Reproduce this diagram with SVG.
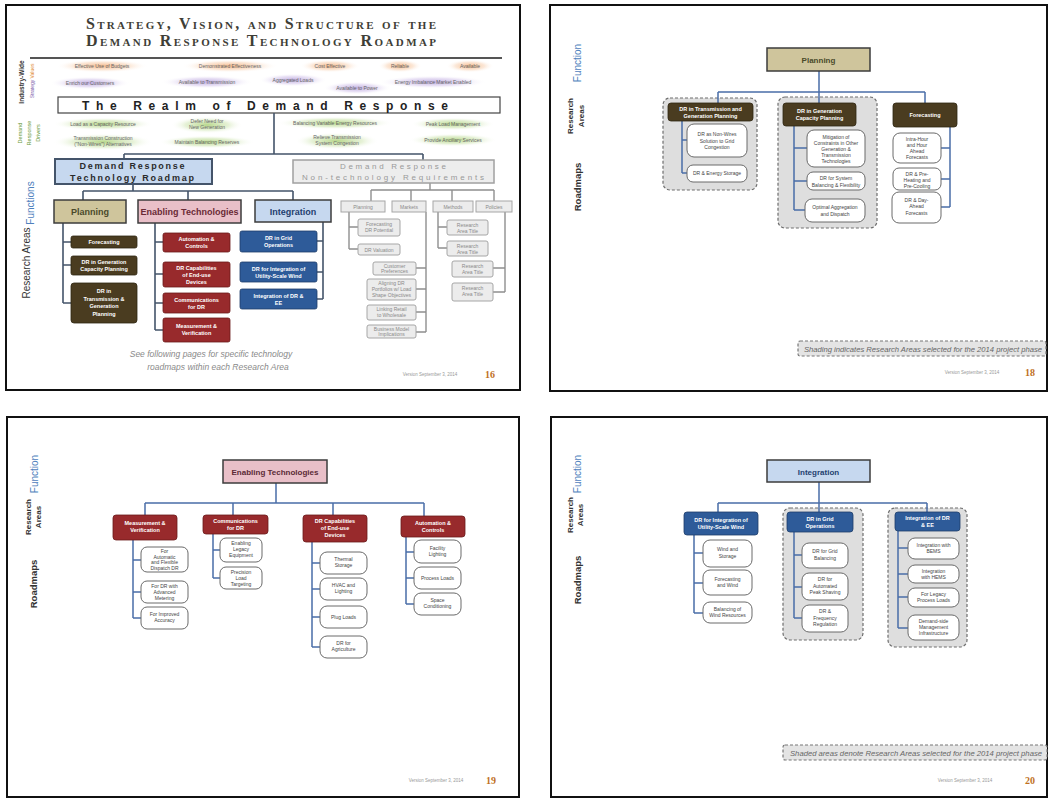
<svg xmlns="http://www.w3.org/2000/svg" width="1050" height="800" viewBox="0 0 1050 800">
<defs>
<radialGradient id="gO"><stop offset="0" stop-color="#f4b07c" stop-opacity="0.9"/><stop offset="0.6" stop-color="#f9d8bd" stop-opacity="0.6"/><stop offset="1" stop-color="#fff" stop-opacity="0"/></radialGradient>
<radialGradient id="gP"><stop offset="0" stop-color="#b7a3dc" stop-opacity="0.9"/><stop offset="0.6" stop-color="#dcd0ef" stop-opacity="0.6"/><stop offset="1" stop-color="#fff" stop-opacity="0"/></radialGradient>
<radialGradient id="gG"><stop offset="0" stop-color="#b3d584" stop-opacity="0.95"/><stop offset="0.6" stop-color="#d8eac0" stop-opacity="0.65"/><stop offset="1" stop-color="#fff" stop-opacity="0"/></radialGradient>
</defs>
<style>
.frame{fill:#fff;stroke:#111;stroke-width:2}
.c1{fill:none;stroke:#44546a;stroke-width:1.6}
.cg{fill:none;stroke:#8f8f8f;stroke-width:1.4}
.cb{fill:none;stroke:#4a6ea8;stroke-width:1.5}
.brown{fill:#4a3c20;stroke:#2e2612;stroke-width:0.8}
.red{fill:#982a2c;stroke:#6a1a1a;stroke-width:0.8}
.blue{fill:#2e5b99;stroke:#1e3d6a;stroke-width:0.8}
.tan{fill:#cfc59c;stroke:#3c3c3c;stroke-width:1.5}
.pink{fill:#e9bfc8;stroke:#3c3c3c;stroke-width:1.5}
.lblue{fill:#c6d8ef;stroke:#3c3c3c;stroke-width:1.5}
.gbox{fill:#ececec;stroke:#a6a6a6;stroke-width:1}
.shade{fill:#dedede;stroke:#6e6e6e;stroke-width:1.2;stroke-dasharray:3 2}
.leaf{fill:#fff;stroke:#6a6a6a;stroke-width:1}
.legend{fill:#e4e4e4;stroke:#777;stroke-width:1.2;stroke-dasharray:3 2}
text{font-family:"Liberation Sans",Arial,sans-serif}
.wt{fill:#fff;font-weight:bold;text-anchor:middle;font-size:5.5px}
.lt{fill:#444;text-anchor:middle;font-size:5px}
.gt{fill:#8a8a8a;text-anchor:middle;font-size:5px}
.glow{fill:#666;text-anchor:middle;font-size:5px}
.ver{fill:#999;font-size:4.5px;text-anchor:middle}
.pg{fill:#c0701e;font-weight:bold;font-size:10px;text-anchor:middle;font-family:"Liberation Serif",serif}
.fn{fill:#4f81bd;font-size:10px;text-anchor:middle}
.ra{fill:#333;font-size:8px;font-weight:bold;text-anchor:middle}
.rm{fill:#333;font-size:9.5px;font-weight:bold;text-anchor:middle}
.leg{fill:#666;font-size:7px;font-style:italic}
</style>

<!-- ===================== SLIDE 16 ===================== -->
<g id="slide16">
<rect class="frame" x="6" y="5" width="514" height="385"/>
<g id="s16-title" font-weight="bold" fill="#3e3e36" style="font-variant:small-caps">
<text x="261" y="29" text-anchor="middle" font-size="16" textLength="350" lengthAdjust="spacing" style="font-family:'Liberation Serif',serif">Strategy, Vision, and Structure of the</text>
<text x="261" y="46" text-anchor="middle" font-size="16" textLength="350" lengthAdjust="spacing" style="font-family:'Liberation Serif',serif">Demand Response Technology Roadmap</text>
</g>
<line x1="30" y1="58" x2="502" y2="58" stroke="#555" stroke-width="2"/>

<g id="s16-sidelabels">
<text transform="translate(24,82) rotate(-90)" font-size="6.5" font-weight="bold" fill="#333" text-anchor="middle">Industry-Wide</text>
<text transform="translate(34,71) rotate(-90)" font-size="5" fill="#e08a30" text-anchor="middle">Values</text>
<text transform="translate(34,89) rotate(-90)" font-size="5" fill="#7a5aa8" text-anchor="middle">Strategy</text>
<text transform="translate(22,133) rotate(-90)" font-size="5.5" fill="#6a9a3a" text-anchor="middle">Demand</text>
<text transform="translate(31,133) rotate(-90)" font-size="5.5" fill="#6a9a3a" text-anchor="middle">Response</text>
<text transform="translate(40,133) rotate(-90)" font-size="5.5" fill="#6a9a3a" text-anchor="middle">Drivers</text>
<text transform="translate(34,203) rotate(-90)" class="fn">Functions</text>
<text transform="translate(30,263) rotate(-90)" font-size="10" fill="#333" text-anchor="middle">Research Areas</text>
</g>

<g id="s16-values">
<ellipse cx="102" cy="66" rx="46" ry="6.5" fill="url(#gO)"/><text class="glow" x="102" y="68">Effective Use of Budgets</text>
<ellipse cx="230" cy="66" rx="48" ry="6.5" fill="url(#gO)"/><text class="glow" x="230" y="68">Demonstrated Effectiveness</text>
<ellipse cx="330" cy="66" rx="30" ry="6.5" fill="url(#gO)"/><text class="glow" x="330" y="68">Cost Effective</text>
<ellipse cx="400" cy="66" rx="22" ry="6.5" fill="url(#gO)"/><text class="glow" x="400" y="68">Reliable</text>
<ellipse cx="470" cy="66" rx="24" ry="6.5" fill="url(#gO)"/><text class="glow" x="470" y="68">Available</text>
</g>
<g id="s16-strategy">
<ellipse cx="90" cy="83" rx="40" ry="6.5" fill="url(#gP)"/><text class="glow" x="90" y="85">Enrich our Customers</text>
<ellipse cx="207" cy="82" rx="46" ry="6.5" fill="url(#gP)"/><text class="glow" x="207" y="84">Available to Transmission</text>
<ellipse cx="293" cy="80" rx="34" ry="6.5" fill="url(#gP)"/><text class="glow" x="293" y="82">Aggregated Loads</text>
<ellipse cx="357" cy="88" rx="34" ry="6.5" fill="url(#gP)"/><text class="glow" x="357" y="90">Available to Power</text>
<ellipse cx="433" cy="82" rx="54" ry="6.5" fill="url(#gP)"/><text class="glow" x="433" y="84">Energy Imbalance Market Enabled</text>
</g>

<g id="s16-realm">
<rect x="58" y="97" width="442" height="16" fill="#fff" stroke="#444" stroke-width="1.2"/>
<text x="265" y="110" text-anchor="middle" font-size="12" font-weight="bold" fill="#222" textLength="366" lengthAdjust="spacing">The Realm of Demand Response</text>
</g>

<g id="s16-drivers">
<ellipse cx="103" cy="124" rx="50" ry="6.5" fill="url(#gG)"/><text class="glow" x="103" y="126">Load as a Capacity Resource</text>
<ellipse cx="207" cy="125" rx="36" ry="8.5" fill="url(#gG)"/><text class="glow" x="207" y="123">Defer Need for<tspan x="207" dy="5.5">New Generation</tspan></text>
<ellipse cx="103" cy="142" rx="50" ry="8.5" fill="url(#gG)"/><text class="glow" x="103" y="140">Transmission Construction<tspan x="103" dy="5.5">("Non-Wires") Alternatives</tspan></text>
<ellipse cx="207" cy="142" rx="48" ry="6.5" fill="url(#gG)"/><text class="glow" x="207" y="144">Maintain Balancing Reserves</text>
<ellipse cx="335" cy="123" rx="58" ry="6.5" fill="url(#gG)"/><text class="glow" x="335" y="125">Balancing Variable Energy Resources</text>
<ellipse cx="453" cy="124" rx="42" ry="6.5" fill="url(#gG)"/><text class="glow" x="453" y="126">Peak Load Management</text>
<ellipse cx="337" cy="141" rx="42" ry="8.5" fill="url(#gG)"/><text class="glow" x="337" y="139">Relieve Transmission<tspan x="337" dy="5.5">System Congestion</tspan></text>
<ellipse cx="453" cy="140" rx="44" ry="6.5" fill="url(#gG)"/><text class="glow" x="453" y="142">Provide Ancillary Services</text>
</g>

<g id="s16-connectors">
<path class="c1" d="M274 113V154M124 154H423M124 154V160M423 154V160"/>
<path class="c1" d="M133 184V191M83 191H293M83 191V200M188 191V200M293 191V200"/>
<path class="c1" d="M63 223V303M63 242H71M63 265H71M63 303H71"/>
<path class="c1" d="M155 223V330M155 242H163M155 274H163M155 303H163M155 330H163"/>
<path class="c1" d="M323 222V299M317 241H323M317 272H323M317 299H323"/>
<path class="cg" d="M430 183V190M371 190H494M371 190V201M411 190V201M452 190V201M494 190V201"/>
<path class="cg" d="M349 212V249M349 227H358M349 249H358"/>
<path class="cg" d="M426 212V332M416 268H426M416 289H426M416 312H426M416 332H426"/>
<path class="cg" d="M438 212V248M438 227H447M438 248H447"/>
<path class="cg" d="M505 212V292M493 268H505M493 292H505"/>
</g>

<g id="s16-drtr">
<rect x="55" y="159" width="157" height="25" fill="#c6d8ef" stroke="#44546a" stroke-width="2"/>
<text x="132" y="169" text-anchor="middle" font-size="9" font-weight="bold" fill="#2a2a2a" textLength="105" lengthAdjust="spacing">Demand Response</text>
<text x="132" y="180.5" text-anchor="middle" font-size="9" font-weight="bold" fill="#2a2a2a" textLength="124" lengthAdjust="spacing">Technology Roadmap</text>
</g>
<g id="s16-nontech">
<rect x="293" y="160" width="201" height="23" fill="#ededed" stroke="#a0a0a0" stroke-width="1.5"/>
<text x="393" y="169" text-anchor="middle" font-size="8" fill="#999" textLength="106" lengthAdjust="spacing">Demand Response</text>
<text x="393" y="180" text-anchor="middle" font-size="8" fill="#999" textLength="182" lengthAdjust="spacing">Non-technology Requirements</text>
</g>

<g id="s16-planning"><rect class="tan" x="54" y="200" width="72" height="23"/><text x="90" y="215" text-anchor="middle" font-size="9" font-weight="bold" fill="#4a4a2a">Planning</text></g>
<g id="s16-enabling"><rect class="pink" x="138" y="200" width="103" height="23"/><text x="189.5" y="215" text-anchor="middle" font-size="9" font-weight="bold" fill="#6a2a36">Enabling Technologies</text></g>
<g id="s16-integration"><rect class="lblue" x="255" y="200" width="76" height="22"/><text x="293" y="214.5" text-anchor="middle" font-size="9" font-weight="bold" fill="#1f3f6f">Integration</text></g>

<g id="s16-forecasting"><rect class="brown" x="71" y="236" width="66" height="12" rx="2"/><text class="wt" x="104" y="244">Forecasting</text></g>
<g id="s16-drgen"><rect class="brown" x="71" y="256" width="66" height="19" rx="2"/><text class="wt" x="104" y="264">DR in Generation<tspan x="104" dy="7">Capacity Planning</tspan></text></g>
<g id="s16-drtrans"><rect class="brown" x="71" y="283" width="66" height="40" rx="3"/><text class="wt" x="104" y="293">DR in<tspan x="104" dy="7.5">Transmission &amp;</tspan><tspan x="104" dy="7.5">Generation</tspan><tspan x="104" dy="7.5">Planning</tspan></text></g>

<g id="s16-auto"><rect class="red" x="163" y="233" width="67" height="19" rx="2"/><text class="wt" x="196.5" y="241">Automation &amp;<tspan x="196.5" dy="7">Controls</tspan></text></g>
<g id="s16-drcap"><rect class="red" x="163" y="262" width="67" height="25" rx="2"/><text class="wt" x="196.5" y="269.5">DR Capabilities<tspan x="196.5" dy="7">of End-use</tspan><tspan x="196.5" dy="7">Devices</tspan></text></g>
<g id="s16-comms"><rect class="red" x="163" y="293" width="67" height="20" rx="2"/><text class="wt" x="196.5" y="301.5">Communications<tspan x="196.5" dy="7">for DR</tspan></text></g>
<g id="s16-mv"><rect class="red" x="163" y="318" width="67" height="24" rx="2"/><text class="wt" x="196.5" y="328">Measurement &amp;<tspan x="196.5" dy="7">Verification</tspan></text></g>

<g id="s16-grid"><rect class="blue" x="240" y="231" width="77" height="21" rx="2"/><text class="wt" x="278.5" y="240">DR in Grid<tspan x="278.5" dy="7">Operations</tspan></text></g>
<g id="s16-wind"><rect class="blue" x="240" y="262" width="77" height="20" rx="2"/><text class="wt" x="278.5" y="270.5">DR for Integration of<tspan x="278.5" dy="7">Utility-Scale Wind</tspan></text></g>
<g id="s16-ee"><rect class="blue" x="240" y="289" width="77" height="20" rx="2"/><text class="wt" x="278.5" y="297.5">Integration of DR &amp;<tspan x="278.5" dy="7">EE</tspan></text></g>

<g id="s16-nt-planning"><rect class="gbox" x="341" y="201" width="44" height="11"/><text class="gt" x="363" y="208.5">Planning</text></g>
<g id="s16-nt-markets"><rect class="gbox" x="392" y="201" width="34" height="11"/><text class="gt" x="409" y="208.5">Markets</text></g>
<g id="s16-nt-methods"><rect class="gbox" x="433" y="201" width="40" height="11"/><text class="gt" x="453" y="208.5">Methods</text></g>
<g id="s16-nt-policies"><rect class="gbox" x="476" y="201" width="36" height="11"/><text class="gt" x="494" y="208.5">Policies</text></g>

<g id="s16-nt-fdr"><rect class="gbox" x="358" y="219" width="42" height="17" rx="2"/><text class="gt" x="379" y="226">Forecasting<tspan x="379" dy="6">DR Potential</tspan></text></g>
<g id="s16-nt-val"><rect class="gbox" x="358" y="244" width="42" height="11" rx="2"/><text class="gt" x="379" y="251.5">DR Valuation</text></g>
<g id="s16-nt-cust"><rect class="gbox" x="373" y="262" width="43" height="13" rx="2"/><text class="gt" x="394.5" y="267.5">Customer<tspan x="394.5" dy="5.5">Preferences</tspan></text></g>
<g id="s16-nt-align"><rect class="gbox" x="367" y="279" width="49" height="21" rx="2"/><text class="gt" x="391.5" y="285">Aligning DR<tspan x="391.5" dy="6">Portfolios w/ Load</tspan><tspan x="391.5" dy="6">Shape Objectives</tspan></text></g>
<g id="s16-nt-link"><rect class="gbox" x="367" y="305" width="49" height="15" rx="2"/><text class="gt" x="391.5" y="311">Linking Retail<tspan x="391.5" dy="6">to Wholesale</tspan></text></g>
<g id="s16-nt-bm"><rect class="gbox" x="367" y="325" width="49" height="13" rx="2"/><text class="gt" x="391.5" y="330.5">Business Model<tspan x="391.5" dy="5.5">Implications</tspan></text></g>
<g id="s16-nt-m1"><rect class="gbox" x="447" y="220" width="41" height="15" rx="2"/><text class="gt" x="467.5" y="226.5">Research<tspan x="467.5" dy="6">Area Title</tspan></text></g>
<g id="s16-nt-m2"><rect class="gbox" x="447" y="241" width="41" height="15" rx="2"/><text class="gt" x="467.5" y="247.5">Research<tspan x="467.5" dy="6">Area Title</tspan></text></g>
<g id="s16-nt-p1"><rect class="gbox" x="452" y="261" width="41" height="16" rx="2"/><text class="gt" x="472.5" y="267.5">Research<tspan x="472.5" dy="6">Area Title</tspan></text></g>
<g id="s16-nt-p2"><rect class="gbox" x="452" y="283" width="41" height="18" rx="2"/><text class="gt" x="472.5" y="290">Research<tspan x="472.5" dy="6">Area Title</tspan></text></g>

<g id="s16-footer">
<text x="211" y="357" text-anchor="middle" font-size="8.5" font-style="italic" fill="#8a8a8a">See following pages for specific technology</text>
<text x="218" y="370" text-anchor="middle" font-size="8.5" font-style="italic" fill="#8a8a8a">roadmaps within each Research Area</text>
<text class="ver" x="430" y="376">Version September 3, 2014</text>
<text class="pg" x="490" y="378">16</text>
</g>
</g>

<!-- ===================== SLIDE 18 ===================== -->
<g id="slide18">
<rect class="frame" x="550" y="5" width="497" height="386"/>
<g id="s18-labels">
<text transform="translate(581,63) rotate(-90)" class="fn">Function</text>
<text transform="translate(573,116) rotate(-90)" class="ra">Research</text>
<text transform="translate(583.5,116) rotate(-90)" class="ra">Areas</text>
<text transform="translate(581,187) rotate(-90)" class="rm">Roadmaps</text>
</g>
<g id="s18-shading">
<rect class="shade" x="663" y="98" width="94" height="92" rx="7"/>
<rect class="shade" x="778" y="97" width="99" height="131" rx="7"/>
</g>
<g id="s18-connectors">
<path class="cb" d="M819 71V92M718 92H925M718 92V103M819 92V103M925 92V103"/>
<path class="cb" d="M682 121V173M682 140H687M682 173H687"/>
<path class="cb" d="M794 126V210M794 148H807M794 181H807M794 210H805"/>
<path class="cb" d="M950 127V207M941 148H950M941 179H950M941 207H950"/>
</g>
<g id="s18-planning"><rect class="tan" x="767" y="48" width="103" height="23"/><text x="818.5" y="63" text-anchor="middle" font-size="8" font-weight="bold" fill="#4a4a2a">Planning</text></g>
<g id="s18-drtrans"><rect class="brown" x="668" y="103" width="85" height="18" rx="3"/><text class="wt" x="710.5" y="111">DR in Transmission and<tspan x="710.5" dy="6.5">Generation Planning</tspan></text></g>
<g id="s18-nw"><rect class="leaf" x="687" y="124" width="60" height="33" rx="7"/><text class="lt" x="717" y="136">DR as Non-Wires<tspan x="717" dy="6.5">Solution to Grid</tspan><tspan x="717" dy="6.5">Congestion</tspan></text></g>
<g id="s18-es"><rect class="leaf" x="687" y="165" width="60" height="17" rx="6"/><text class="lt" x="717" y="175">DR &amp; Energy Storage</text></g>
<g id="s18-drgen"><rect class="brown" x="783" y="103" width="73" height="23" rx="3"/><text class="wt" x="819.5" y="112.5">DR in Generation<tspan x="819.5" dy="7">Capacity Planning</tspan></text></g>
<g id="s18-mit"><rect class="leaf" x="807" y="130" width="58" height="37" rx="7"/><text class="lt" x="836" y="139">Mitigation of<tspan x="836" dy="6">Constraints in Other</tspan><tspan x="836" dy="6">Generation &amp;</tspan><tspan x="836" dy="6">Transmission</tspan><tspan x="836" dy="6">Technologies</tspan></text></g>
<g id="s18-bal"><rect class="leaf" x="807" y="172" width="58" height="18" rx="6"/><text class="lt" x="836" y="180">DR for System<tspan x="836" dy="6.5">Balancing &amp; Flexibility</tspan></text></g>
<g id="s18-opt"><rect class="leaf" x="805" y="199" width="60" height="23" rx="7"/><text class="lt" x="835" y="209">Optimal Aggregation<tspan x="835" dy="6.5">and Dispatch</tspan></text></g>
<g id="s18-fc"><rect class="brown" x="893" y="103" width="64" height="24" rx="3"/><text class="wt" x="925" y="117">Forecasting</text></g>
<g id="s18-ih"><rect class="leaf" x="893" y="133" width="48" height="30" rx="7"/><text class="lt" x="917" y="141">Intra-Hour<tspan x="917" dy="6">and Hour</tspan><tspan x="917" dy="6">Ahead</tspan><tspan x="917" dy="6">Forecasts</tspan></text></g>
<g id="s18-ph"><rect class="leaf" x="893" y="168" width="48" height="22" rx="6"/><text class="lt" x="917" y="175.5">DR &amp; Pre-<tspan x="917" dy="6">Heating and</tspan><tspan x="917" dy="6">Pre-Cooling</tspan></text></g>
<g id="s18-da"><rect class="leaf" x="892" y="192" width="49" height="31" rx="7"/><text class="lt" x="916.5" y="201.5">DR &amp; Day-<tspan x="916.5" dy="6.5">Ahead</tspan><tspan x="916.5" dy="6.5">Forecasts</tspan></text></g>
<g id="s18-legend"><rect class="legend" x="798" y="341" width="248" height="15" rx="2"/><text class="leg" x="804" y="351.5" textLength="238" lengthAdjust="spacingAndGlyphs">Shading indicates Research Areas selected for the 2014 project phase</text></g>
<g id="s18-footer"><text class="ver" x="972" y="374">Version September 3, 2014</text><text class="pg" x="1030" y="376">18</text></g>
</g>

<!-- ===================== SLIDE 19 ===================== -->
<g id="slide19">
<rect class="frame" x="7" y="417" width="512" height="380"/>
<g id="s19-labels">
<text transform="translate(38,474) rotate(-90)" class="fn">Function</text>
<text transform="translate(31,517) rotate(-90)" class="ra">Research</text>
<text transform="translate(41,517) rotate(-90)" class="ra">Areas</text>
<text transform="translate(37,584) rotate(-90)" class="rm">Roadmaps</text>
</g>
<g id="s19-connectors">
<path class="cb" d="M276 483V503M145 503H424M145 503V515M233 503V515M333 503V515M424 503V516"/>
<path class="cb" d="M133 540V618M133 560H141M133 592H141M133 618H141"/>
<path class="cb" d="M213 534V578M213 550H220M213 578H220"/>
<path class="cb" d="M312 542V647M312 563H320M312 589H320M312 617H320M312 647H320"/>
<path class="cb" d="M406 537V604M406 552H414M406 578H414M406 604H414"/>
</g>
<g id="s19-enabling"><rect class="pink" x="223" y="460" width="104" height="23"/><text x="275" y="475" text-anchor="middle" font-size="8" font-weight="bold" fill="#5a2a36">Enabling Technologies</text></g>
<g id="s19-mv"><rect class="red" x="113" y="515" width="64" height="25" rx="3"/><text class="wt" x="145" y="525">Measurement &amp;<tspan x="145" dy="7">Verification</tspan></text></g>
<g id="s19-comms"><rect class="red" x="203" y="515" width="65" height="19" rx="3"/><text class="wt" x="235.5" y="523">Communications<tspan x="235.5" dy="7">for DR</tspan></text></g>
<g id="s19-drcap"><rect class="red" x="303" y="515" width="64" height="27" rx="3"/><text class="wt" x="335" y="522.5">DR Capabilities<tspan x="335" dy="7">of End-use</tspan><tspan x="335" dy="7">Devices</tspan></text></g>
<g id="s19-auto"><rect class="red" x="401" y="516" width="64" height="21" rx="3"/><text class="wt" x="433" y="524.5">Automation &amp;<tspan x="433" dy="7">Controls</tspan></text></g>
<g id="s19-l1"><rect class="leaf" x="141" y="547" width="47" height="25" rx="6"/><text class="lt" x="164.5" y="553">For<tspan x="164.5" dy="5.5">Automatic</tspan><tspan x="164.5" dy="5.5">and Flexible</tspan><tspan x="164.5" dy="5.5">Dispatch DR</tspan></text></g>
<g id="s19-l2"><rect class="leaf" x="141" y="581" width="47" height="22" rx="6"/><text class="lt" x="164.5" y="588">For DR with<tspan x="164.5" dy="6">Advanced</tspan><tspan x="164.5" dy="6">Metering</tspan></text></g>
<g id="s19-l3"><rect class="leaf" x="141" y="607" width="47" height="22" rx="6"/><text class="lt" x="164.5" y="616">For Improved<tspan x="164.5" dy="6">Accuracy</tspan></text></g>
<g id="s19-l4"><rect class="leaf" x="220" y="538" width="42" height="24" rx="6"/><text class="lt" x="241" y="545">Enabling<tspan x="241" dy="6">Legacy</tspan><tspan x="241" dy="6">Equipment</tspan></text></g>
<g id="s19-l5"><rect class="leaf" x="220" y="567" width="42" height="22" rx="6"/><text class="lt" x="241" y="573.5">Precision<tspan x="241" dy="6">Load</tspan><tspan x="241" dy="6">Targeting</tspan></text></g>
<g id="s19-l6"><rect class="leaf" x="320" y="552" width="47" height="22" rx="7"/><text class="lt" x="343.5" y="561">Thermal<tspan x="343.5" dy="6">Storage</tspan></text></g>
<g id="s19-l7"><rect class="leaf" x="320" y="578" width="47" height="22" rx="7"/><text class="lt" x="343.5" y="587">HVAC and<tspan x="343.5" dy="6">Lighting</tspan></text></g>
<g id="s19-l8"><rect class="leaf" x="320" y="606" width="47" height="22" rx="7"/><text class="lt" x="343.5" y="618.5">Plug Loads</text></g>
<g id="s19-l9"><rect class="leaf" x="320" y="636" width="47" height="22" rx="7"/><text class="lt" x="343.5" y="645">DR for<tspan x="343.5" dy="6">Agriculture</tspan></text></g>
<g id="s19-l10"><rect class="leaf" x="414" y="540" width="47" height="23" rx="7"/><text class="lt" x="437.5" y="549.5">Facility<tspan x="437.5" dy="6">Lighting</tspan></text></g>
<g id="s19-l11"><rect class="leaf" x="414" y="567" width="47" height="22" rx="7"/><text class="lt" x="437.5" y="579.5">Process Loads</text></g>
<g id="s19-l12"><rect class="leaf" x="414" y="593" width="47" height="22" rx="7"/><text class="lt" x="437.5" y="602">Space<tspan x="437.5" dy="6">Conditioning</tspan></text></g>
<g id="s19-footer"><text class="ver" x="436" y="782">Version September 3, 2014</text><text class="pg" x="491" y="784">19</text></g>
</g>

<!-- ===================== SLIDE 20 ===================== -->
<g id="slide20">
<rect class="frame" x="551" y="417" width="496" height="380"/>
<g id="s20-labels">
<text transform="translate(581,474) rotate(-90)" class="fn">Function</text>
<text transform="translate(572.5,515) rotate(-90)" class="ra">Research</text>
<text transform="translate(583,515) rotate(-90)" class="ra">Areas</text>
<text transform="translate(581,580) rotate(-90)" class="rm">Roadmaps</text>
</g>
<g id="s20-shading">
<rect class="shade" x="783" y="508" width="80" height="132" rx="7"/>
<rect class="shade" x="888" y="508" width="79" height="139" rx="7"/>
</g>
<g id="s20-connectors">
<path class="cb" d="M819 482V503M718 503H927M718 503V512M819 503V512M927 503V512"/>
<path class="cb" d="M694 535V613M694 553H703M694 583H703M694 613H703"/>
<path class="cb" d="M794 532V618M794 555H802M794 587H802M794 618H802"/>
<path class="cb" d="M898 531V628M898 548H908M898 574H908M898 597H908M898 628H908"/>
</g>
<g id="s20-integration"><rect class="lblue" x="767" y="460" width="103" height="22"/><text x="818.5" y="474.5" text-anchor="middle" font-size="8" font-weight="bold" fill="#1f3f6f">Integration</text></g>
<g id="s20-wind"><rect class="blue" x="684" y="512" width="74" height="23" rx="3"/><text class="wt" x="721" y="521.5">DR for Integration of<tspan x="721" dy="7">Utility-Scale Wind</tspan></text></g>
<g id="s20-w1"><rect class="leaf" x="703" y="540" width="49" height="27" rx="7"/><text class="lt" x="727.5" y="551">Wind and<tspan x="727.5" dy="6.5">Storage</tspan></text></g>
<g id="s20-w2"><rect class="leaf" x="703" y="570" width="49" height="25" rx="7"/><text class="lt" x="727.5" y="580.5">Forecasting<tspan x="727.5" dy="6.5">and Wind</tspan></text></g>
<g id="s20-w3"><rect class="leaf" x="703" y="602" width="49" height="21" rx="7"/><text class="lt" x="727.5" y="610.5">Balancing of<tspan x="727.5" dy="6.5">Wind Resources</tspan></text></g>
<g id="s20-grid"><rect class="blue" x="787" y="512" width="66" height="20" rx="3"/><text class="wt" x="820" y="520.5">DR in Grid<tspan x="820" dy="7">Operations</tspan></text></g>
<g id="s20-g1"><rect class="leaf" x="802" y="543" width="46" height="25" rx="7"/><text class="lt" x="825" y="553">DR for Grid<tspan x="825" dy="6.5">Balancing</tspan></text></g>
<g id="s20-g2"><rect class="leaf" x="802" y="573" width="46" height="27" rx="7"/><text class="lt" x="825" y="581">DR for<tspan x="825" dy="6.5">Automated</tspan><tspan x="825" dy="6.5">Peak Shaving</tspan></text></g>
<g id="s20-g3"><rect class="leaf" x="802" y="605" width="46" height="27" rx="7"/><text class="lt" x="825" y="613">DR &amp;<tspan x="825" dy="6.5">Frequency</tspan><tspan x="825" dy="6.5">Regulation</tspan></text></g>
<g id="s20-ee"><rect class="blue" x="895" y="512" width="65" height="19" rx="3"/><text class="wt" x="927.5" y="520">Integration of DR<tspan x="927.5" dy="7">&amp; EE</tspan></text></g>
<g id="s20-e1"><rect class="leaf" x="908" y="538" width="51" height="21" rx="7"/><text class="lt" x="933.5" y="546.5">Integration with<tspan x="933.5" dy="6.5">BEMS</tspan></text></g>
<g id="s20-e2"><rect class="leaf" x="908" y="565" width="51" height="18" rx="7"/><text class="lt" x="933.5" y="572.5">Integration<tspan x="933.5" dy="6">with HEMS</tspan></text></g>
<g id="s20-e3"><rect class="leaf" x="908" y="588" width="51" height="19" rx="7"/><text class="lt" x="933.5" y="596">For Legacy<tspan x="933.5" dy="6">Process Loads</tspan></text></g>
<g id="s20-e4"><rect class="leaf" x="908" y="615" width="51" height="25" rx="7"/><text class="lt" x="933.5" y="622.5">Demand-side<tspan x="933.5" dy="6">Management</tspan><tspan x="933.5" dy="6">Infrastructure</tspan></text></g>
<g id="s20-legend"><rect class="legend" x="783" y="745" width="264" height="15" rx="2"/><text class="leg" x="790" y="755.5" textLength="252" lengthAdjust="spacingAndGlyphs">Shaded areas denote Research Areas selected for the 2014 project phase</text></g>
<g id="s20-footer"><text class="ver" x="965" y="782">Version September 3, 2014</text><text class="pg" x="1030" y="784">20</text></g>
</g>
</svg>
